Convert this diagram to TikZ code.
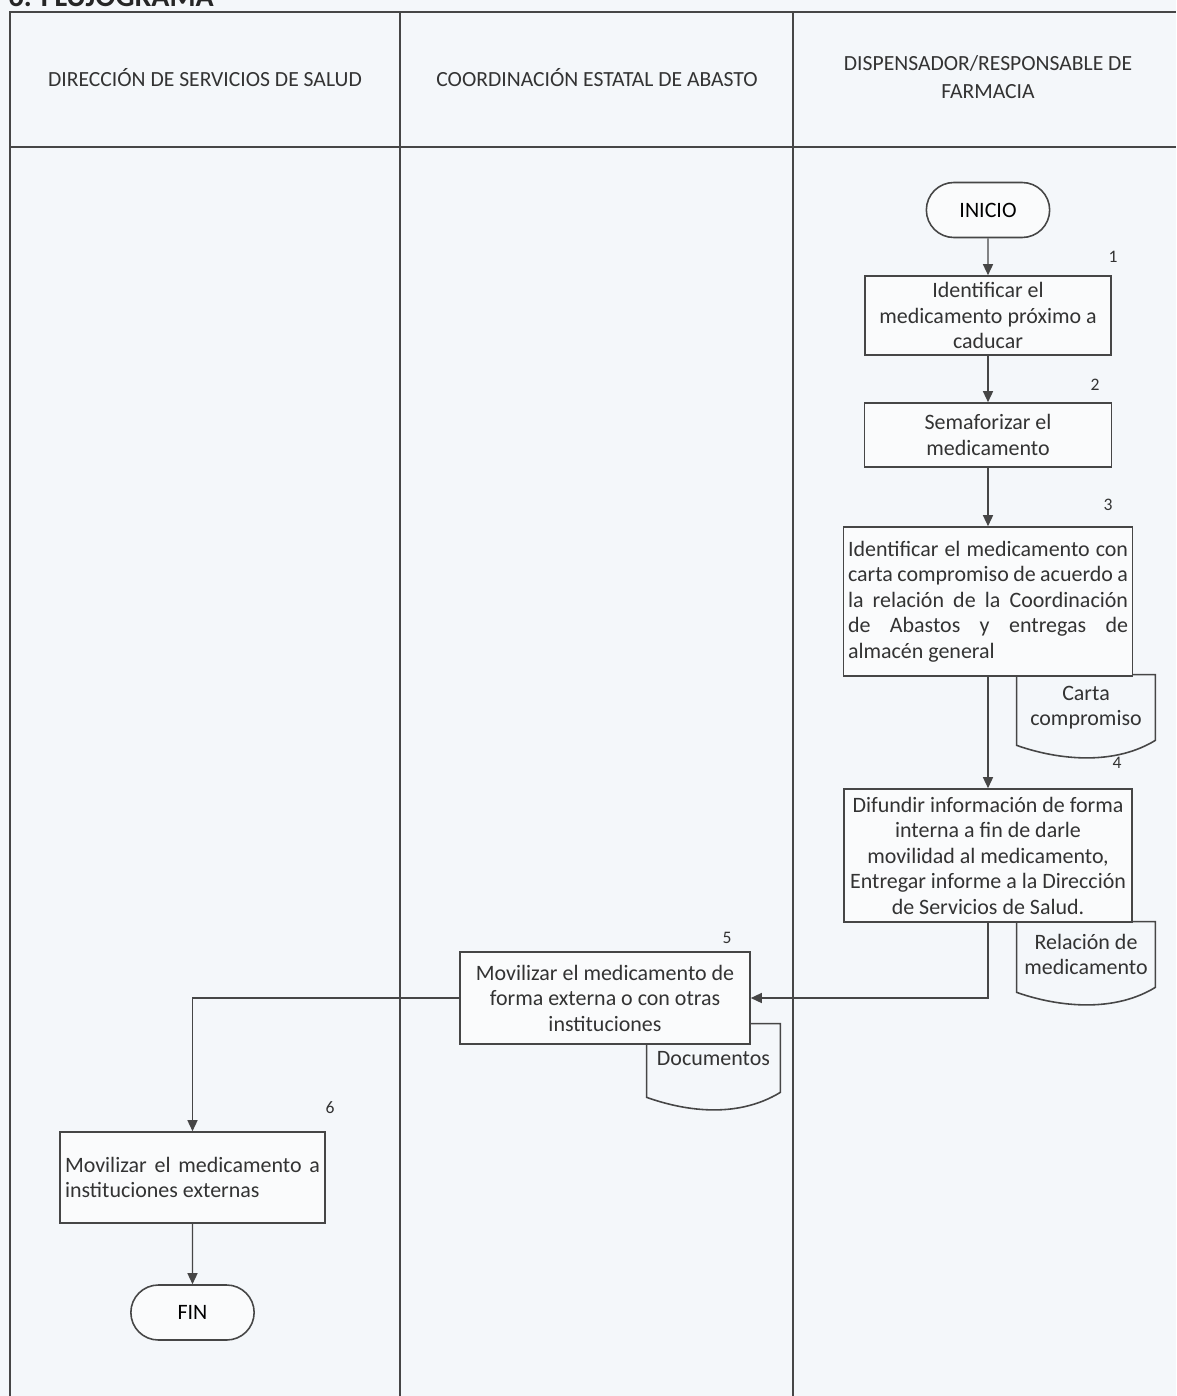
\documentclass[tikz,border=0pt]{standalone}
\usepackage{fontspec}
\setmainfont{Carlito}
\usetikzlibrary{arrows.meta,positioning,shapes,calc}

\definecolor{paper}{RGB}{244,247,250}
\definecolor{ink}{RGB}{70,70,70}

\begin{document}
\begin{tikzpicture}[
    line/.style={draw=ink, line width=0.8pt},
    box/.style={rectangle, draw=ink, line width=0.9pt, fill=white!50!paper,
                font=\fontsize{12.5}{14.5}\selectfont, text=black!80, inner sep=2pt},
    term/.style={rounded rectangle, draw=ink, line width=0.9pt, fill=white!50!paper,
                 minimum width=2.7cm, minimum height=1.1cm, font=\fontsize{12.5}{14.5}\selectfont},
    doc/.style={rectangle, minimum width=2.76cm, minimum height=1.3cm, align=center,
                font=\fontsize{12.5}{14.5}\selectfont, text=black!80},
    arr/.style={-{Triangle[length=2.2mm, width=2mm]}, line},
    num/.style={font=\fontsize{10}{12}\selectfont, text=black!80},
    lane/.style={align=center, font=\fontsize{12.3}{15.5}\selectfont, text=black!80}
]
    \fill[paper] (0,0) rectangle (23.52,-27.92);
    \useasboundingbox (0,0) rectangle (23.52,-27.92);
    \node[anchor=base west, font=\bfseries\fontsize{17}{20}\selectfont, text=black!85] (title) at (0.05,-0.14) {6. FLUJOGRAMA};

    % swimlanes
    \draw[line] (0.2,-27.92) -- (0.2,-0.24) -- (23.52,-0.24);
    \draw[line] (0.2,-2.94) -- (23.52,-2.94);
    \draw[line] (8.0,-0.24) -- (8.0,-27.92);
    \draw[line] (15.86,-0.24) -- (15.86,-27.92);
    \node[lane] (l1) at (4.1,-1.56)   {DIRECCIÓN DE SERVICIOS DE SALUD};
    \node[lane] (l2) at (11.94,-1.56) {COORDINACIÓN ESTATAL DE ABASTO};
    \node[lane] (l3) at (19.76,-1.54) {DISPENSADOR/RESPONSABLE DE\\FARMACIA};

    % documents (drawn first, the boxes cover their tops)
    \node[doc] (carta) at (21.72,-14.15) {Carta\\compromiso};
    \node[doc] (relacion) at (21.72,-19.09) {Relación de\\medicamento};
    \node[doc, minimum width=2.66cm, minimum height=1.36cm] (docs) at (14.27,-21.16) {\\[-6pt]Documentos};
    \foreach \d in {carta,relacion,docs}
        \draw[line, line width=0.9pt] (\d.north west) -- (\d.north east) -- (\d.south east)
            .. controls ($(\d.south east)+(-0.9,-0.55)$) and ($(\d.south west)+(0.7,-0.35)$)
            .. ($(\d.south west)+(0,-0.1)$) -- cycle;

    % steps
    \node[term] (inicio) at (19.76,-4.2) {INICIO};
    \node[box, minimum width=4.92cm, minimum height=1.58cm, align=center] (b1) at (19.76,-6.31)
        {Identificar el\\medicamento próximo a\\caducar};
    \node[box, minimum width=4.94cm, minimum height=1.28cm, align=center] (b2) at (19.76,-8.7)
        {Semaforizar el\\medicamento};
    \node[box, minimum width=5.78cm, minimum height=2.98cm, text width=5.6cm, align=justify] (b3) at (19.76,-12.03)
        {Identificar el medicamento con\linebreak carta compromiso de acuerdo a\linebreak la relación de la Coordinación\linebreak de Abastos y entregas de\linebreak almacén general};
    \node[box, minimum width=5.76cm, minimum height=2.66cm, align=center] (b4) at (19.76,-17.11)
        {Difundir información de forma\\interna a fin de darle\\movilidad al medicamento,\\Entregar informe a la Dirección\\de Servicios de Salud.};
    \node[box, minimum width=5.8cm, minimum height=1.84cm, align=center] (b5) at (12.1,-19.96)
        {Movilizar el medicamento de\\forma externa o con otras\\instituciones};
    \node[box, minimum width=5.3cm, minimum height=1.82cm, text width=5.1cm, align=justify] (b6) at (3.85,-23.55)
        {Movilizar el medicamento a\linebreak instituciones externas};
    \node[term] (fin) at (3.85,-26.25) {FIN};

    % step numbers
    \node[num] (n1) at (22.26,-5.14) {1};
    \node[num] (n2) at (21.9,-7.7)   {2};
    \node[num] (n3) at (22.16,-10.1) {3};
    \node[num] (n4) at (22.34,-15.26) {4};
    \node[num] (n5) at (14.54,-18.76) {5};
    \node[num] (n6) at (6.6,-22.16)  {6};

    % flow
    \draw[arr] (inicio) -- (b1);
    \draw[arr] (b1) -- (b2);
    \draw[arr] (b2) -- (b3);
    \draw[arr] (b3) -- (b4);
    \draw[arr] (b4.south) |- (b5.east);
    \draw[arr] (b5.west) -| (b6.north);
    \draw[arr] (b6) -- (fin);
\end{tikzpicture}
\end{document}
